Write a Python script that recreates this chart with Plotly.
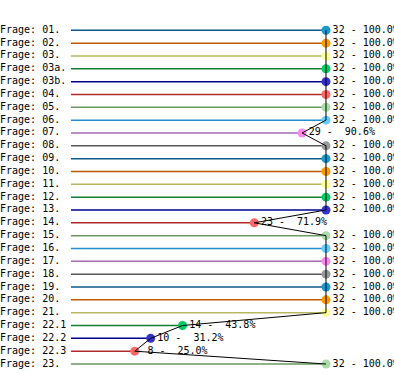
import plotly.graph_objects as go

labels = ["01.", "02.", "03.", "03a.", "03b.", "04.", "05.", "06.", "07.", "08.",
          "09.", "10.", "11.", "12.", "13.", "14.", "15.", "16.", "17.", "18.",
          "19.", "20.", "21.", "22.1", "22.2", "22.3", "23."]
counts = [32, 32, 32, 32, 32, 32, 32, 32, 29, 32,
          32, 32, 32, 32, 32, 23, 32, 32, 32, 32,
          32, 32, 32, 14, 10, 8, 32]
total = 32
line_colors = ["#0f5a8a", "#c05a00", "#b8b860", "#108030", "#000090",
               "#b02828", "#6a9a60", "#2090d0", "#a868b8", "#585858"]
marker_colors = ["#1899d0", "#ff9900", "#ffff99", "#00cc66", "#3333cc",
                 "#ff6666", "#a8dca8", "#66ccff", "#ff88ee", "#999999"]

pct = [c / total * 100 for c in counts]
ys = list(range(len(labels)))
font = "DejaVu Sans Mono"
nb = "\u00a0"
texts = [("%2d - %5.1f%%" % (c, p)).replace(" ", nb) for c, p in zip(counts, pct)]

fig = go.Figure()
# colored horizontal lines, one trace per palette colour
for k, col in enumerate(line_colors):
    xs, yy = [], []
    for i in ys:
        if i % len(line_colors) == k:
            xs += [0, pct[i], None]
            yy += [i, i, None]
    fig.add_trace(go.Scatter(x=xs, y=yy, mode="lines",
                             line=dict(color=col, width=1.5),
                             hoverinfo="skip", showlegend=False))

# markers with value labels
fig.add_trace(go.Scatter(x=pct, y=ys, mode="markers+text", text=texts,
                         textposition="middle right",
                         textfont=dict(family=font, size=10, color="black"),
                         marker=dict(size=9, symbol="circle",
                                     color=[marker_colors[i % 10] for i in ys],
                                     line=dict(width=0)),
                         cliponaxis=False, showlegend=False))
# black profile line
fig.add_trace(go.Scatter(x=pct, y=ys, mode="lines",
                         line=dict(color="black", width=1),
                         showlegend=False))
# row labels
fig.add_trace(go.Scatter(x=[-27.84] * len(ys), y=ys, mode="text",
                         text=[("Frage: " + l).replace(" ", nb) for l in labels],
                         textposition="middle right",
                         textfont=dict(family=font, size=10, color="black"),
                         cliponaxis=False, showlegend=False))

fig.update_layout(width=394, height=373, margin=dict(l=0, r=0, t=0, b=0),
                  paper_bgcolor="white", plot_bgcolor="white",
                  xaxis=dict(range=[-27.84, 126.67], visible=False, fixedrange=True),
                  yaxis=dict(range=[26.70, -2.36], visible=False, fixedrange=True))
fig.write_html("out.html", config={"displayModeBar": False},
               post_script="document.body.style.margin='0';")
